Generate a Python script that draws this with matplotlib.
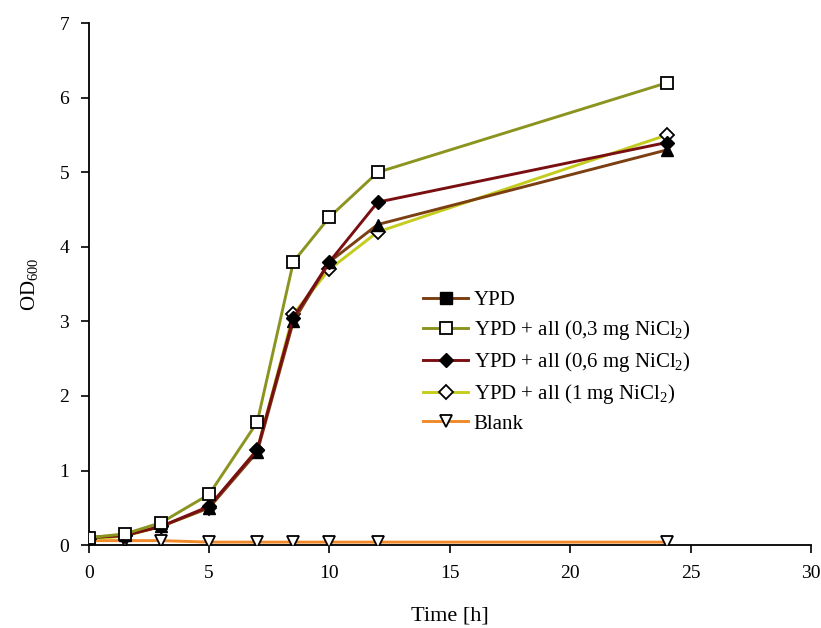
import matplotlib
matplotlib.use("Agg")
import matplotlib.pyplot as plt
from matplotlib.lines import Line2D

plt.rcParams['font.family'] = ['Liberation Serif', 'DejaVu Serif']
plt.rcParams['mathtext.fontset'] = 'custom'
plt.rcParams['mathtext.rm'] = 'Liberation Serif'
plt.rcParams['mathtext.it'] = 'Liberation Serif:italic'

time_h = [0, 1.5, 3, 5, 7, 8.5, 10, 12, 24]
ypd = [0.10, 0.13, 0.25, 0.50, 1.25, 3.00, 3.80, 4.30, 5.30]
ni_03 = [0.10, 0.15, 0.30, 0.68, 1.65, 3.80, 4.40, 5.00, 6.20]
ni_06 = [0.10, 0.13, 0.25, 0.52, 1.28, 3.05, 3.80, 4.60, 5.40]
ni_1 = [0.08, 0.12, 0.25, 0.50, 1.28, 3.10, 3.70, 4.20, 5.50]
blank = [0.06, 0.06, 0.06, 0.04, 0.04, 0.04, 0.04, 0.04, 0.04]

labels = ['YPD', 'YPD + all (0,3 mg NiCl$_2$)', 'YPD + all (0,6 mg NiCl$_2$)',
          'YPD + all (1 mg NiCl$_2$)', 'Blank']

fig = plt.figure(figsize=(8.21, 6.28), dpi=100)
ax = fig.add_axes([0.108, 0.132, 0.880, 0.831])

lw = 2.1
ms = 8
ax.plot(time_h, blank, color='#f0892a', lw=lw, marker='v', mfc='white', mec='black', ms=ms, mew=1.3, zorder=3)
ax.plot(time_h, ni_1, color='#c4cc1e', lw=lw, marker='D', mfc='white', mec='black', ms=ms - 1, mew=1.3, zorder=4)
ax.plot(time_h, ypd, color='#7b3f12', lw=lw, marker='^', mfc='black', mec='black', ms=ms, zorder=5)
ax.plot(time_h, ni_06, color='#7a0f12', lw=lw, marker='D', mfc='black', mec='black', ms=ms - 1, zorder=6)
ax.plot(time_h, ni_03, color='#8c9420', lw=lw, marker='s', mfc='white', mec='black', ms=ms, mew=1.3, zorder=7)

handles = [
    Line2D([], [], color='#7b3f12', lw=lw, marker='s', mfc='black', mec='black', ms=ms),
    Line2D([], [], color='#8c9420', lw=lw, marker='s', mfc='white', mec='black', ms=ms, mew=1.3),
    Line2D([], [], color='#7a0f12', lw=lw, marker='D', mfc='black', mec='black', ms=ms - 1),
    Line2D([], [], color='#c4cc1e', lw=lw, marker='D', mfc='white', mec='black', ms=ms - 1, mew=1.3),
    Line2D([], [], color='#f0892a', lw=lw, marker='v', mfc='white', mec='black', ms=ms, mew=1.3),
]
ax.legend(handles, labels, loc='upper left', bbox_to_anchor=(0.497, 0.560),
          bbox_transform=fig.transFigure, frameon=False, fontsize=15,
          handlelength=2.2, handletextpad=0.25, labelspacing=0.38, borderpad=0.2)

ax.set_xlim(0, 30)
ax.set_ylim(0, 7)
ax.set_xticks(range(0, 31, 5))
ax.set_yticks(range(0, 8))
ax.spines['top'].set_visible(False)
ax.spines['right'].set_visible(False)
ax.spines['left'].set_linewidth(1.3)
ax.spines['bottom'].set_linewidth(1.3)
ax.tick_params(direction='out', length=6, width=1.2, labelsize=14, pad=8)
ax.set_xlabel('Time [h]', fontsize=16, labelpad=18)
ax.set_ylabel('OD$_{600}$', fontsize=15, labelpad=14)

fig.savefig('out.png', dpi=100)
